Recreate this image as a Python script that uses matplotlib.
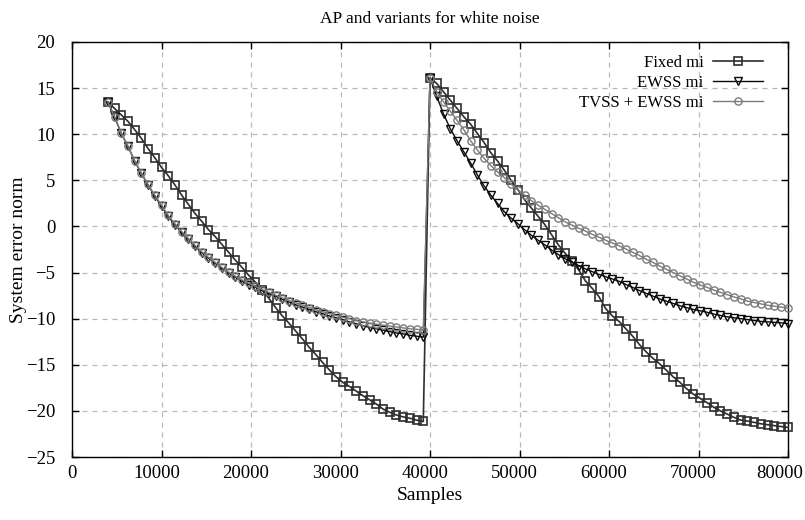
import numpy as np
import matplotlib
matplotlib.use("Agg")
import matplotlib.pyplot as plt
import matplotlib.transforms as mtransforms

plt.rcParams['font.family'] = ['Liberation Serif', 'DejaVu Serif']

# ---- data -------------------------------------------------------------
x_left = np.arange(4000, 39251, 750)          # samples, first half
x_right = np.linspace(40000, 80000, 54)       # samples, second half

fixed_left = [13.5, 12.8, 12.1, 11.4, 10.5, 9.55, 8.45, 7.45,
              6.4, 5.5, 4.5, 3.4, 2.4, 1.4, 0.55, -0.35,
              -1.1, -1.95, -2.8, -3.65, -4.45, -5.3, -6.05, -6.9,
              -7.8, -8.8, -9.7, -10.5, -11.35, -12.2, -13.1, -13.9,
              -14.75, -15.55, -16.3, -16.9, -17.35, -17.85, -18.35, -18.8,
              -19.25, -19.8, -20.15, -20.45, -20.65, -20.8, -21.0, -21.15]
ewss_left = [13.5, 11.9, 10.1, 8.7, 7.1, 5.75, 4.5, 3.3,
             2.2, 1.1, 0.2, -0.65, -1.4, -2.15, -2.85, -3.45,
             -4.0, -4.55, -5.05, -5.5, -5.95, -6.3, -6.6, -6.95,
             -7.25, -7.55, -7.9, -8.2, -8.5, -8.75, -9.0, -9.25,
             -9.45, -9.7, -9.9, -10.1, -10.35, -10.55, -10.75, -10.95,
             -11.1, -11.25, -11.4, -11.55, -11.65, -11.8, -11.9, -12.0]
tvss_left = [13.5, 11.9, 10.1, 8.7, 7.1, 5.8, 4.55, 3.4,
             2.3, 1.2, 0.3, -0.55, -1.3, -2.05, -2.75, -3.35,
             -3.9, -4.45, -4.95, -5.4, -5.8, -6.15, -6.5, -6.85,
             -7.15, -7.45, -7.75, -8.05, -8.3, -8.55, -8.8, -9.05,
             -9.25, -9.45, -9.65, -9.85, -10.0, -10.2, -10.35, -10.5,
             -10.6, -10.7, -10.8, -10.9, -11.0, -11.1, -11.15, -11.25]

fixed_right = [16.1, 15.5, 14.6, 13.7, 12.8, 11.9, 11.1, 10.1, 9.1,
               8.0, 7.1, 6.1, 5.0, 4.0, 2.9, 2.0, 1.1, 0.2,
               -0.9, -2.0, -2.9, -3.8, -4.7, -5.9, -6.7, -7.6, -8.9,
               -9.7, -10.3, -11.1, -11.9, -12.8, -13.6, -14.3, -14.9, -15.6,
               -16.3, -16.9, -17.6, -18.2, -18.65, -19.1, -19.6, -20.0, -20.35,
               -20.7, -21.0, -21.1, -21.25, -21.4, -21.5, -21.6, -21.7, -21.8]
ewss_right = [16.1, 14.1, 12.2, 10.6, 9.3, 8.1, 6.9, 5.6, 4.4,
              3.4, 2.5, 1.6, 0.9, 0.3, -0.35, -0.95, -1.5, -2.0,
              -2.55, -3.05, -3.5, -3.85, -4.25, -4.6, -4.9, -5.2, -5.45,
              -5.7, -5.95, -6.3, -6.6, -6.95, -7.25, -7.55, -7.85, -8.1,
              -8.35, -8.6, -8.8, -9.0, -9.15, -9.3, -9.5, -9.65, -9.8,
              -9.9, -10.0, -10.1, -10.2, -10.3, -10.35, -10.4, -10.45, -10.55]
tvss_right = [16.1, 14.6, 13.5, 12.5, 11.5, 10.5, 9.3, 8.3, 7.4,
              6.6, 5.9, 5.3, 4.6, 3.95, 3.4, 2.8, 2.3, 1.85,
              1.4, 0.95, 0.5, 0.15, -0.2, -0.5, -0.85, -1.15, -1.5,
              -1.8, -2.1, -2.45, -2.8, -3.15, -3.55, -3.9, -4.3, -4.65,
              -5.0, -5.35, -5.7, -6.05, -6.35, -6.6, -6.9, -7.15, -7.4,
              -7.65, -7.85, -8.1, -8.25, -8.4, -8.55, -8.65, -8.75, -8.85]

labels = ["Fixed mi", "EWSS mi", "TVSS + EWSS mi"]
title = "AP and variants for white noise"
xlabel = "Samples"
ylabel = "System error norm"
xticks = list(range(0, 80001, 10000))
yticks = list(range(-25, 21, 5))

# ---- figure -----------------------------------------------------------
fig = plt.figure(figsize=(8.05, 5.20), dpi=100)
ax = fig.add_axes([72/805, 1-457/520, (788-72)/805, (457-42)/520])

x_all = np.concatenate([x_left, x_right])
series = [
    (np.concatenate([fixed_left, fixed_right]), dict(color="#2e2e2e", marker="s", ms=5.5, lw=1.2, mew=1.2)),
    (np.concatenate([ewss_left, ewss_right]), dict(color="#0a0a0a", marker="v", ms=5.5, lw=1.0, mew=1.0)),
    (np.concatenate([tvss_left, tvss_right]), dict(color="#7a7a7a", marker="o", ms=5.2, lw=1.0, mew=1.0)),
]
for (y, st), lab in zip(series, labels):
    ax.plot(x_all, y, label=lab, mfc="none", clip_on=False, zorder=3, **st)

ax.set_xlim(0, 80000)
ax.set_ylim(-25, 20)
ax.set_xticks(xticks)
ax.set_yticks(yticks)
ax.tick_params(direction="in", top=True, right=True, length=5, labelsize=13.5, width=1)
ax.tick_params(axis="y", pad=12)
ax.tick_params(axis="x", pad=6)
ax.grid(True, linestyle=(0, (4, 4)), color="#b8b8b8", lw=0.9)
for s in ax.spines.values():
    s.set_linewidth(1.0)
    s.set_color("black")

# shift x tick labels (except 0) slightly left, as in the reference
xtl = ax.get_xticklabels()
for i, lbl in enumerate(xtl[1:], start=1):
    dx = -8 if i == len(xtl) - 1 else -5
    off = mtransforms.ScaledTranslation(dx/100, 0, fig.dpi_scale_trans)
    lbl.set_transform(lbl.get_transform() + off)

ax.set_title(title, fontsize=12.5, pad=14)
ax.set_xlabel(xlabel, fontsize=14, labelpad=3)
ax.set_ylabel(ylabel, fontsize=14, labelpad=-1)

leg = ax.legend(loc="upper right", bbox_to_anchor=(0.975, 0.985), frameon=False,
                markerfirst=False, fontsize=12, handlelength=3.0, handletextpad=0.6,
                labelspacing=0.25, borderaxespad=0.0)

fig.savefig("out.png", dpi=100)
